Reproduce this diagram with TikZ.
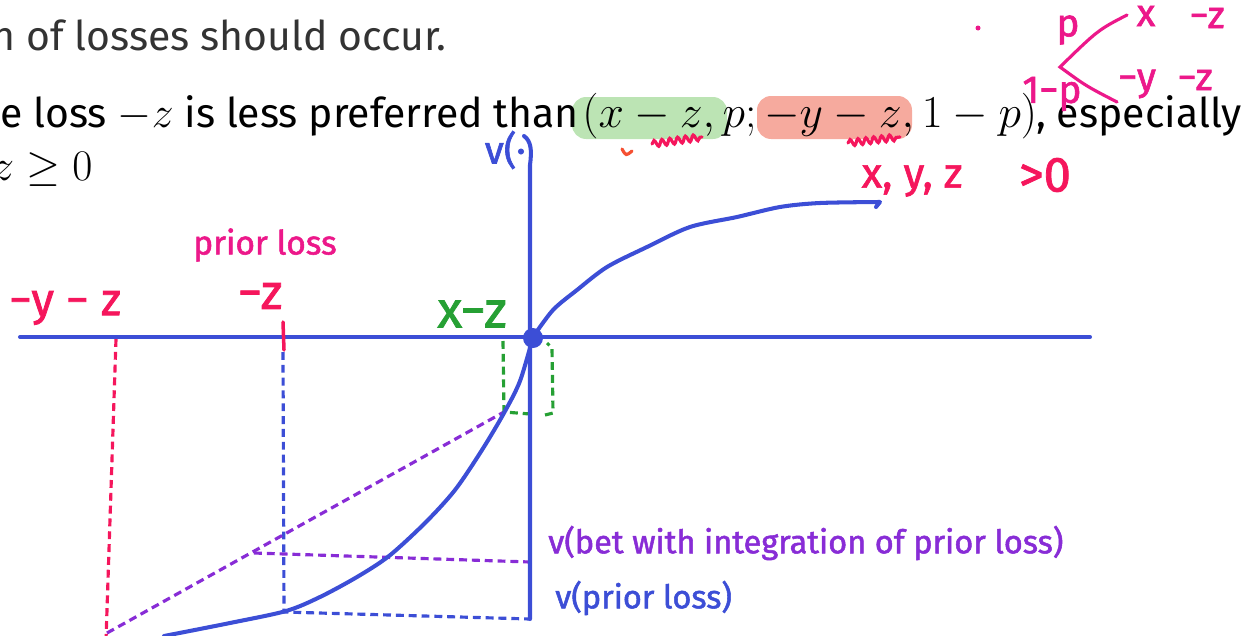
\documentclass[tikz,border=0pt]{standalone}
\usepackage{fontspec}
\setmainfont{Fira Sans}
\newfontfamily\inkfont[FakeBold=1.6]{Fira Sans}
\usetikzlibrary{positioning,decorations.pathmorphing}
\definecolor{inkblue}{RGB}{60,78,214}
\definecolor{inkred}{RGB}{245,22,92}
\definecolor{inkpink}{RGB}{236,24,138}
\definecolor{inkgreen}{RGB}{38,160,52}
\definecolor{inkpurple}{RGB}{136,44,214}
\definecolor{inkorange}{RGB}{245,80,50}
\definecolor{hlgreen}{RGB}{188,228,180}
\definecolor{hlred}{RGB}{246,170,158}
\definecolor{slidegray}{RGB}{51,51,51}

\begin{document}
\begin{tikzpicture}[x=0.02cm, y=-0.02cm,
    slide/.style={inner sep=0pt, anchor=base west, font=\fontsize{23.3}{28}\selectfont},
    hand/.style={inner sep=0pt, font=\inkfont\fontsize{22}{22}\selectfont},
    axis/.style={inkblue, line width=2.3pt, line cap=round, line join=round},
    guide/.style={line width=1.8pt, dash pattern=on 4.5pt off 2.8pt},
    pen/.style={line width=1.8pt, line cap=round}]
    \useasboundingbox (0,0) rectangle (1242,636);

    \fill[hlgreen, rounded corners=8pt] (572,97) rectangle (727,139);
    \fill[hlred, rounded corners=8pt] (757,96) rectangle (912,139);

    \node[slide, slidegray] (l1) at (-9,50) {n of losses should occur.};
    \node[slide] (l2) at (0,127) {e loss $-z$ is less preferred than};
    \node[slide, font=\fontsize{24.88}{28}\selectfont] (lott) at (582,127) {\scalebox{1.045}{$(x-z, p; -y-z, 1-p)$}};
    \node[slide] (l2b) at (1036,127) {, especially};
    \node[slide, font=\fontsize{24.88}{28}\selectfont] (l3) at (-8,180) {$z\geq 0$};

    \draw[pen, inkred, decorate, decoration={snake, amplitude=1.8pt, segment length=4.5pt}] (652,144) -- (702,137);
    \draw[pen, inkred, decorate, decoration={snake, amplitude=1.8pt, segment length=4.5pt}] (848,143) -- (900,137);
    \draw[pen, inkorange] (622,149) .. controls (626,156) .. (632,151);

    \coordinate (O) at (533,338);
    \coordinate (xl) at (20,337);
    \coordinate (xr) at (1090,337);
    \coordinate (yb) at (530,619);
    \coordinate (yt) at (530,165);
    \coordinate (yh) at (524,136);

    \draw[guide, inkred] (116,339) coordinate (ryz) -- (106,640) coordinate (ryzb);
    \draw[guide, inkblue] (283,352) coordinate (bz) -- (284,612) coordinate (bzb) -- (yb);
    \coordinate (pa) at (107,633);
    \coordinate (pg) at (504,412);
    \draw[guide, inkpurple] (pa) -- (pg);
    \draw[guide, inkpurple] (254,553) coordinate (pm) -- (530,562) coordinate (pv);
    \draw[guide, inkgreen] (503,341) coordinate (gx) -- (pg) -- (530,414) coordinate (gv);
    \draw[guide, inkgreen] (545,415) -- (553,413) -- (552,348) -- (547,343);

    \draw[axis] (xl) -- (xr);
    \draw[axis] (yb) -- (yt) .. controls (532,150) and (531,141) .. (yh);
    \draw[axis] plot[smooth] coordinates {(533,337) (553,310) (577,290) (607,267) (647,247)
        (690,227) (737,217) (780,207) (820,203) (880,202)} -- (876,207);
    \draw[axis] plot[smooth] coordinates {(533,337) (520,381) (504,413) (482,450) (455,490)
        (425,523) (389,556) (357,577) (320,597) (286,611) (230,623) (164,636)};
    \fill[inkblue] (O) circle (10);
    \draw[pen, inkred, line width=2pt] (283,322) coordinate (mzt) -- (284,350);

    \node[hand, inkblue, anchor=east] (vlab) at (526,150) {v(·};
    \node[hand, inkred, font=\inkfont\fontsize{26}{26}\selectfont] (yz) at (65,308) {−y − z};
    \node[hand, inkred, font=\inkfont\fontsize{28}{28}\selectfont] (mz) at (260,296) {−z};
    \node[hand, inkpink, font=\inkfont\fontsize{19}{19}\selectfont] (prior) at (265,245) {prior loss};
    \node[hand, inkgreen, font=\inkfont\fontsize{29}{29}\selectfont] (xz) at (472,314) {x−z};
    \node[hand, inkred, font=\inkfont\fontsize{24}{24}\selectfont] (xyz) at (912,181) {x, y, z};
    \node[hand, inkred, font=\inkfont\fontsize{28}{28}\selectfont] (pos) at (1045,175) {>0};
    \node[hand, inkpurple, anchor=west, font=\inkfont\fontsize{18.5}{18.5}\selectfont] (betlab) at (548,543) {v(bet with integration of prior loss)};
    \node[hand, inkblue, anchor=west, font=\inkfont\fontsize{18.5}{18.5}\selectfont] (priorlab) at (555,598) {v(prior loss)};

    \fill[inkpink] (978,28) circle (2.5);
    \coordinate (tr) at (1060,67);
    \coordinate (ta) at (1127,15);
    \coordinate (tb) at (1117,102);
    \draw[pen, inkpink] (ta) .. controls (1098,30) .. (tr) .. controls (1086,86) .. (tb);
    \node[hand, inkpink] (tp) at (1068,30) {p};
    \node[hand, inkpink] (tx) at (1146,16) {x};
    \node[hand, inkpink] (txz) at (1207,18) {−z};
    \node[hand, inkpink] (tq) at (1052,94) {1−p};
    \node[hand, inkpink] (ty) at (1137,84) {−y};
    \node[hand, inkpink] (tyz) at (1195,80) {−z};
\end{tikzpicture}
\end{document}
